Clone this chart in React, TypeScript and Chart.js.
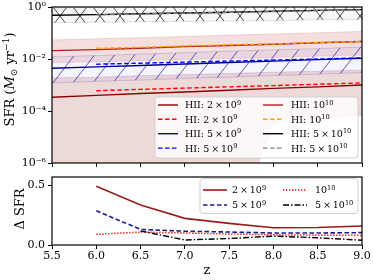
import React, { useEffect, useRef } from 'react';
import { Chart, registerables } from 'chart.js';
Chart.register(...registerables);

// ---------- data ----------
const zHII = [5.5, 6.0, 6.5, 7.0, 7.5, 8.0, 8.5, 9.0];
const zHI = [6.0, 6.5, 7.0, 7.5, 8.0, 8.5, 9.0];

const hii2e9 = [3.4e-4, 4.0e-4, 4.7e-4, 5.4e-4, 6.3e-4, 7.4e-4, 8.5e-4, 1.0e-3];
const hi2e9 = [6.0e-4, 6.8e-4, 7.6e-4, 8.5e-4, 9.5e-4, 1.07e-3, 1.2e-3];
const hii5e9 = [4.4e-3, 5.0e-3, 5.6e-3, 6.4e-3, 7.3e-3, 8.3e-3, 9.5e-3, 1.07e-2];
const hi5e9 = [6.3e-3, 6.9e-3, 7.6e-3, 8.3e-3, 9.1e-3, 1.0e-2, 1.1e-2];
const hii1e10 = [2.1e-2, 2.3e-2, 2.6e-2, 3.0e-2, 3.3e-2, 3.7e-2, 4.2e-2, 4.7e-2];
const hi1e10 = [2.6e-2, 2.8e-2, 3.2e-2, 3.5e-2, 3.8e-2, 4.3e-2, 4.7e-2];
const hii5e10 = [0.48, 0.51, 0.55, 0.59, 0.63, 0.69, 0.74, 0.79];
const hi5e10 = [0.5, 0.54, 0.58, 0.62, 0.67, 0.72, 0.78];

const band2e9Hi = [1.9e-3, 2.0e-3, 2.3e-3, 2.5e-3, 2.8e-3, 3.1e-3, 3.4e-3, 3.8e-3];
const band2e9Lo = [1e-9, 1e-9, 1e-9, 1e-9, 1e-9, 3.5e-5, 5e-5, 7e-5];
const band1e10Hi = [0.054, 0.06, 0.066, 0.074, 0.083, 0.091, 0.102, 0.115];
const band1e10Lo = [7.1e-3, 7.8e-3, 8.7e-3, 9.5e-3, 1.05e-2, 1.15e-2, 1.29e-2, 1.41e-2];
const band5e9Hi = [0.012, 0.0135, 0.0155, 0.0174, 0.02, 0.0224, 0.025, 0.029];
const band5e9Lo = [1.2e-3, 1.38e-3, 1.55e-3, 1.78e-3, 2.0e-3, 2.3e-3, 2.6e-3, 3.0e-3];
const band5e10Hi = [0.91, 0.95, 0.98, 1.02, 1.07, 1.12, 1.15, 1.2];
const band5e10Lo = [0.25, 0.26, 0.27, 0.28, 0.29, 0.3, 0.32, 0.33];

const zD = [6.0, 6.5, 7.0, 7.5, 8.0, 8.5, 9.0];
const d2e9 = [0.49, 0.333, 0.222, 0.18, 0.144, 0.146, 0.158];
const d5e9 = [0.285, 0.13, 0.115, 0.108, 0.1, 0.1, 0.103];
const d1e10 = [0.089, 0.108, 0.1, 0.092, 0.085, 0.082, 0.08];
const d5e10 = [null, 0.117, 0.042, 0.054, 0.074, 0.06, 0.04];

const zTicks = [5.5, 6.0, 6.5, 7.0, 7.5, 8.0, 8.5, 9.0];
const sfrTicks = [1e-6, 1e-4, 1e-2, 1];
const sfrTickLabels = ['10⁻⁶', '10⁻⁴', '10⁻²', '10⁰'];
const dTicks = [0, 0.5];

const topLabels = ['HII: 2 × 10^9', 'HI: 2 × 10^9', 'HII: 5 × 10^9', 'HI: 5 × 10^9',
  'HII: 10^10', 'HI: 10^10', 'HII: 5 × 10^10', 'HI: 5 × 10^10'];
const bottomLabels = ['2 × 10^9', '5 × 10^9', '10^10', '5 × 10^10'];

// ---------- helpers ----------
const FONT = '"DejaVu Serif", serif';
type Seg = { t: string; sup?: boolean; sub?: boolean; it?: boolean };

function segFont(base: number, s: Seg) {
  const size = s.sup || s.sub ? base * 0.7 : base;
  return `${s.it ? 'italic ' : ''}${size}px ${FONT}`;
}
function measureSegs(ctx: CanvasRenderingContext2D, segs: Seg[], base: number) {
  let w = 0;
  for (const s of segs) { ctx.font = segFont(base, s); w += ctx.measureText(s.t).width; }
  return w;
}
function drawSegs(ctx: CanvasRenderingContext2D, segs: Seg[], x: number, y: number, base: number) {
  let cx = x;
  for (const s of segs) {
    ctx.font = segFont(base, s);
    const dy = s.sup ? -base * 0.4 : s.sub ? base * 0.22 : 0;
    ctx.fillText(s.t, cx, y + dy);
    cx += ctx.measureText(s.t).width;
  }
}
function parseLabel(s: string): Seg[] {
  const str = s.replace(/ × /g, '\u2009×\u2009');
  const i = str.indexOf('^');
  if (i < 0) return [{ t: str }];
  return [{ t: str.slice(0, i) }, { t: str.slice(i + 1), sup: true }];
}
function pts(xs: number[], ys: (number | null)[]) {
  const out: { x: number; y: number }[] = [];
  xs.forEach((x, i) => { const y = ys[i]; if (y !== null && y !== undefined) out.push({ x, y }); });
  return out;
}
function hatch(kind: 'slash' | 'x', color: string, bg: string, dx: number, dy: number, ctxMain: CanvasRenderingContext2D) {
  const W = 20, H = 26;
  const c = document.createElement('canvas');
  c.width = W; c.height = H;
  const g = c.getContext('2d')!;
  g.fillStyle = bg; g.fillRect(0, 0, W, H);
  g.strokeStyle = color; g.lineWidth = 0.8;
  g.beginPath();
  for (let k = -1; k <= 1; k++) {
    g.moveTo(k * W, H); g.lineTo((k + 1) * W, 0);
    if (kind === 'x') { g.moveTo(k * W, 0); g.lineTo((k + 1) * W, H); }
  }
  g.stroke();
  const p = ctxMain.createPattern(c, 'repeat')!;
  try { p.setTransform(new DOMMatrix([1, 0, 0, 1, dx, dy])); } catch (e) { /* ignore */ }
  return p;
}

type LegendItem = { label: string; color: string; dash: number[]; width: number; x0: number; x1: number; tx: number; y: number };
function drawLegend(ctx: CanvasRenderingContext2D, box: { x: number; y: number; w: number; h: number }, items: LegendItem[], fs: number) {
  ctx.save();
  ctx.beginPath();
  (ctx as any).roundRect(box.x, box.y, box.w, box.h, 3);
  ctx.fillStyle = 'rgba(255,255,255,0.8)';
  ctx.fill();
  ctx.strokeStyle = 'rgba(204,204,204,0.9)';
  ctx.lineWidth = 1;
  ctx.stroke();
  for (const it of items) {
    ctx.beginPath();
    ctx.setLineDash(it.dash);
    ctx.strokeStyle = it.color;
    ctx.lineWidth = it.width;
    ctx.moveTo(it.x0, it.y); ctx.lineTo(it.x1, it.y);
    ctx.stroke();
    ctx.setLineDash([]);
    ctx.fillStyle = '#000';
    ctx.textBaseline = 'alphabetic';
    ctx.textAlign = 'left';
    drawSegs(ctx, parseLabel(it.label), it.tx, it.y + fs * 0.36, fs);
  }
  ctx.restore();
}
function drawFrame(chart: any) {
  const { ctx, chartArea: a } = chart;
  ctx.save();
  ctx.strokeStyle = '#000';
  ctx.lineWidth = 1.2;
  ctx.strokeRect(a.left, a.top, a.right - a.left, a.bottom - a.top);
  ctx.restore();
}
function drawRotTitle(ctx: CanvasRenderingContext2D, segs: Seg[], fs: number, baseX: number, cy: number) {
  ctx.save();
  ctx.translate(baseX, cy);
  ctx.rotate(-Math.PI / 2);
  ctx.fillStyle = '#000';
  ctx.textBaseline = 'alphabetic';
  ctx.textAlign = 'left';
  const w = measureSegs(ctx, segs, fs);
  drawSegs(ctx, segs, -w / 2, 0, fs);
  ctx.restore();
}

const tickFont = { family: FONT, size: 11 };
const gridOpts = { drawOnChartArea: false, color: '#000', tickLength: 4, lineWidth: 1 };

const TOP_OFF = -13; // page y of top canvas
const BOT_OFF = 160; // page y of bottom canvas

// styles
const C_2E9 = '#8b0000', C_HI2E9 = '#ff0000', C_5E9 = '#00008b', C_HI5E9 = '#0000ff';
const C_1E10 = '#b22222', C_HI1E10 = '#ffa500', C_5E10 = '#000000', C_HI5E10 = '#808080';
const DASH = [4.5, 2.5];

export default function App() {
  const topRef = useRef<HTMLCanvasElement>(null);
  const botRef = useRef<HTMLCanvasElement>(null);

  useEffect(() => {
    const tctx = topRef.current!.getContext('2d')!;
    const blueHatch = hatch('slash', 'rgba(20,20,150,0.85)', 'rgba(0,0,255,0.04)', 13, 18, tctx);
    const xHatch = hatch('x', 'rgba(0,0,0,0.9)', 'rgba(0,0,0,0.03)', 0, 3, tctx);

    const line = (label: string, xs: number[], ys: (number | null)[], color: string, dash: number[], order: number, width = 1.4) => ({
      label, data: pts(xs, ys), borderColor: color, borderDash: dash, borderWidth: width,
      pointRadius: 0, fill: false, order, tension: 0,
    });
    const band = (ys: number[], bg: any, edge: string, order: number, fill: any) => ({
      label: '', data: pts(zHII, ys), borderColor: edge, borderWidth: 0.8, backgroundColor: bg,
      pointRadius: 0, fill, order, tension: 0,
    });

    const topPlugin = {
      id: 'topDeco',
      afterDatasetsDraw(chart: any) {
        drawFrame(chart);
        const ctx = chart.ctx as CanvasRenderingContext2D;
        const o = -TOP_OFF;
        const rows = [105, 119.3, 133.7, 148.1].map(v => v + o);
        const col1 = { x0: 158, x1: 178, tx: 185 };
        const col2 = { x0: 263, x1: 283, tx: 291 };
        const specs = [
          [C_2E9, [], col1, 0], [C_HI2E9, DASH, col1, 1], [C_5E9, [], col1, 2], [C_HI5E9, DASH, col1, 3],
          [C_1E10, [], col2, 0], [C_HI1E10, DASH, col2, 1], [C_5E10, [], col2, 2], [C_HI5E10, DASH, col2, 3],
        ] as any[];
        const items: LegendItem[] = specs.map((s, i) => ({
          label: topLabels[i], color: s[0], dash: s[1], width: 1.4,
          x0: s[2].x0, x1: s[2].x1, tx: s[2].tx, y: rows[s[3]],
        }));
        drawLegend(ctx, { x: 155, y: 97 + o, w: 203, h: 61 }, items, 9.5);
      },
      afterDraw(chart: any) {
        const ctx = chart.ctx as CanvasRenderingContext2D;
        drawRotTitle(ctx, [{ t: 'SFR (' }, { t: 'M', it: true }, { t: '⊙', sub: true }, { t: ' yr' }, { t: '−1', sup: true }, { t: ')' }], 13, 14, 79.5 - TOP_OFF);
      },
    };

    const top = new Chart(topRef.current!, {
      type: 'line',
      data: {
        datasets: [
          band(band2e9Hi, 'rgba(139,0,0,0.15)', 'rgba(139,0,0,0.18)', 40, '+1'),
          band(band2e9Lo, 'transparent', 'rgba(139,0,0,0.18)', 41, false),
          band(band1e10Hi, 'rgba(178,34,34,0.15)', 'rgba(178,34,34,0.18)', 38, '+1'),
          band(band1e10Lo, 'transparent', 'rgba(178,34,34,0.18)', 39, false),
          band(band5e9Hi, blueHatch, 'rgba(60,60,160,0.25)', 36, '+1'),
          band(band5e9Lo, 'transparent', 'rgba(60,60,160,0.25)', 37, false),
          band(band5e10Hi, xHatch, 'rgba(0,0,0,0.15)', 34, '+1'),
          band(band5e10Lo, 'transparent', 'rgba(0,0,0,0.15)', 35, false),
          line('HII 2e9', zHII, hii2e9, C_2E9, [], 20),
          line('HI 2e9', zHI, hi2e9, C_HI2E9, DASH, 19),
          line('HII 5e9', zHII, hii5e9, C_5E9, [], 18),
          line('HI 5e9', zHI, hi5e9, C_HI5E9, DASH, 17),
          line('HII 1e10', zHII, hii1e10, C_1E10, [], 16),
          line('HI 1e10', zHI, hi1e10, C_HI1E10, DASH, 15),
          line('HII 5e10', zHII, hii5e10, C_5E10, [], 14),
          line('HI 5e10', zHI, hi5e10, C_HI5E10, DASH, 13),
        ] as any,
      },
      options: {
        animation: false, responsive: false, maintainAspectRatio: false, devicePixelRatio: 1,
        layout: { padding: { top: 7 - TOP_OFF, right: 12, left: 0, bottom: 0 } },
        plugins: { legend: { display: false }, tooltip: { enabled: false } },
        events: [],
        scales: {
          x: {
            type: 'linear', min: 5.5, max: 9,
            afterBuildTicks: (s: any) => { s.ticks = zTicks.map(v => ({ value: v })); },
            ticks: { display: false },
            grid: gridOpts, border: { display: false },
            afterFit: (s: any) => { s.height = 9; },
          },
          y: {
            type: 'logarithmic', min: 1e-6, max: 1,
            afterBuildTicks: (s: any) => { s.ticks = sfrTicks.map(v => ({ value: v })); },
            ticks: {
              callback: (v: any) => { const i = sfrTicks.indexOf(Number(v)); return i >= 0 ? sfrTickLabels[i] : ''; },
              font: tickFont, color: '#000', padding: 2, autoSkip: false,
            },
            grid: gridOpts, border: { display: false },
            afterFit: (s: any) => { s.width = 52; },
          },
        },
      } as any,
      plugins: [topPlugin],
    });

    const botPlugin = {
      id: 'botDeco',
      afterDatasetsDraw(chart: any) {
        drawFrame(chart);
        const ctx = chart.ctx as CanvasRenderingContext2D;
        const o = -BOT_OFF;
        const rows = [190, 205].map(v => v + o);
        const col1 = { x0: 203, x1: 227, tx: 232 };
        const col2 = { x0: 283, x1: 307, tx: 315 };
        const specs = [
          ['#9b1b1b', [], col1, 0, 1.6], ['#1a1a8c', DASH, col1, 1, 1.6],
          ['#ff0000', [1.3, 1.7], col2, 0, 1.5], ['#000000', [6, 2, 1.5, 2], col2, 1, 1.4],
        ] as any[];
        const items: LegendItem[] = specs.map((s, i) => ({
          label: bottomLabels[i], color: s[0], dash: s[1], width: s[4],
          x0: s[2].x0, x1: s[2].x1, tx: s[2].tx, y: rows[s[3]],
        }));
        drawLegend(ctx, { x: 200, y: 178.5 + o, w: 158, h: 35 }, items, 9.5);
      },
      afterDraw(chart: any) {
        const ctx = chart.ctx as CanvasRenderingContext2D;
        drawRotTitle(ctx, [{ t: 'Δ SFR' }], 13, 23.5, 209 - BOT_OFF);
        ctx.save();
        ctx.fillStyle = '#000';
        ctx.font = `13px ${FONT}`;
        ctx.textAlign = 'center';
        ctx.textBaseline = 'alphabetic';
        ctx.fillText('z', 207, 274 - BOT_OFF);
        ctx.restore();
      },
    };

    const bot = new Chart(botRef.current!, {
      type: 'line',
      data: {
        datasets: [
          line('2e9', zD, d2e9, '#9b1b1b', [], 4, 1.6),
          line('5e9', zD, d5e9, '#1a1a8c', DASH, 3, 1.6),
          line('1e10', zD, d1e10, '#ff0000', [1.3, 1.7], 2, 1.5),
          line('5e10', zD, d5e10, '#000000', [6, 2, 1.5, 2], 1, 1.4),
        ] as any,
      },
      options: {
        animation: false, responsive: false, maintainAspectRatio: false, devicePixelRatio: 1,
        layout: { padding: { top: 177 - BOT_OFF, right: 12, left: 0, bottom: 0 } },
        plugins: { legend: { display: false }, tooltip: { enabled: false } },
        events: [],
        scales: {
          x: {
            type: 'linear', min: 5.5, max: 9,
            afterBuildTicks: (s: any) => { s.ticks = zTicks.map(v => ({ value: v })); },
            ticks: { callback: (v: any) => Number(v).toFixed(1), font: tickFont, color: '#000', padding: 1, maxRotation: 0, autoSkip: false },
            grid: gridOpts, border: { display: false },
            afterFit: (s: any) => { s.height = 35; },
          },
          y: {
            type: 'linear', min: 0, max: 0.5667,
            afterBuildTicks: (s: any) => { s.ticks = dTicks.map(v => ({ value: v })); },
            ticks: { callback: (v: any) => Number(v).toFixed(1), font: tickFont, color: '#000', padding: 3 },
            grid: gridOpts, border: { display: false },
            afterFit: (s: any) => { s.width = 52; },
          },
        },
      } as any,
      plugins: [botPlugin],
    });

    return () => { top.destroy(); bot.destroy(); };
  }, []);

  return (
    <div style={{ position: 'fixed', left: 0, top: 0, width: 374, height: 280, overflow: 'hidden', background: '#fff' }}>
      <canvas ref={topRef} width={374} height={185} style={{ position: 'absolute', left: 0, top: TOP_OFF, width: 374, height: 185 }} />
      <canvas ref={botRef} width={374} height={120} style={{ position: 'absolute', left: 0, top: BOT_OFF, width: 374, height: 120 }} />
    </div>
  );
}
